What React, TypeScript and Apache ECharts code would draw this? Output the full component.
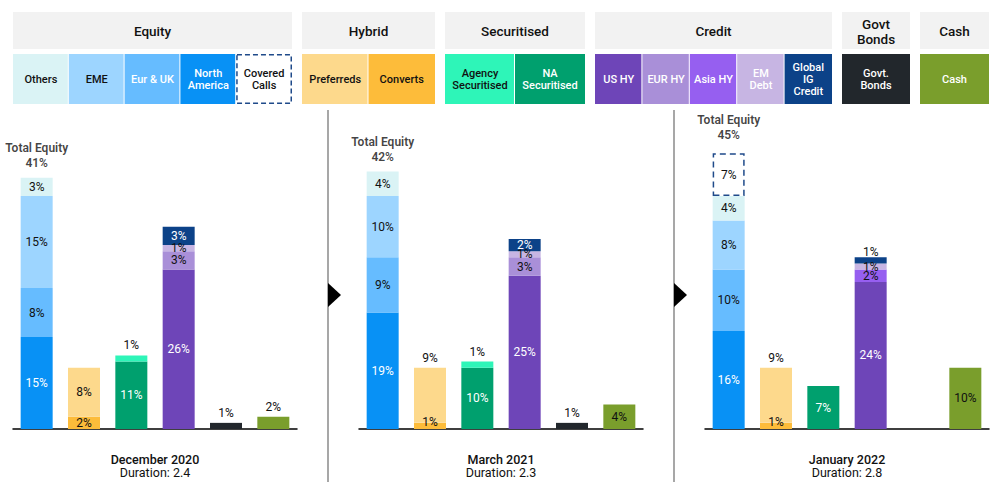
import React, { useEffect, useRef } from 'react';
import * as echarts from 'echarts';

// ---------- DATA ----------
const categories = ['Equity', 'Hybrid', 'Securitised', 'Credit', 'Govt Bonds', 'Cash'];
const groupTitles = ['Equity', 'Hybrid', 'Securitised', 'Credit', 'Govt\nBonds', 'Cash'];
const panelTitles = ['December 2020', 'March 2021', 'January 2022'];
const panelDurations = ['Duration: 2.4', 'Duration: 2.3', 'Duration: 2.8'];

// values per panel: [Dec 2020, Mar 2021, Jan 2022]
const northAmerica = [15, 19, 16];
const eurUK = [8, 9, 10];
const eme = [15, 10, 8];
const equityOthers = [3, 4, 4];
const coveredCalls = [0, 0, 7];
const converts = [2, 1, 1];
const preferreds = [8, 9, 9];
const naSecuritised = [11, 10, 7];
const agencySecuritised = [1, 1, 0];
const usHY = [26, 25, 24];
const eurHY = [3, 3, 0];
const asiaHY = [0, 0, 2];
const emDebt = [1, 1, 1];
const globalIG = [3, 2, 1];
const govtBonds = [1, 1, 0];
const cash = [2, 4, 10];

// ---------- STYLE ----------
const FONT = 'Roboto, "Noto Sans", sans-serif';
const DARK = '#111111';

type Seg = {
  key: string;
  legend: string;
  cat: number;
  values: number[];
  color: string;
  textColor: string;
  legendTextColor: string;
  dashed?: boolean;
  topPanels?: number[];
  nudgeUp?: number;
};

// stacking order: bottom -> top
const segments: Seg[] = [
  { key: 'North America', legend: 'North\nAmerica', cat: 0, values: northAmerica, color: '#0891f5', textColor: '#fff', legendTextColor: '#fff' },
  { key: 'Eur & UK', legend: 'Eur & UK', cat: 0, values: eurUK, color: '#66bcff', textColor: DARK, legendTextColor: '#fff' },
  { key: 'EME', legend: 'EME', cat: 0, values: eme, color: '#9dd5ff', textColor: DARK, legendTextColor: DARK },
  { key: 'Others', legend: 'Others', cat: 0, values: equityOthers, color: '#daf3f5', textColor: DARK, legendTextColor: DARK },
  { key: 'Covered Calls', legend: 'Covered\nCalls', cat: 0, values: coveredCalls, color: '#ffffff', textColor: DARK, legendTextColor: DARK, dashed: true },
  { key: 'Converts', legend: 'Converts', cat: 1, values: converts, color: '#fdbc3a', textColor: DARK, legendTextColor: DARK, nudgeUp: 4 },
  { key: 'Preferreds', legend: 'Preferreds', cat: 1, values: preferreds, color: '#fdd98c', textColor: DARK, legendTextColor: DARK, topPanels: [1, 2] },
  { key: 'NA Securitised', legend: 'NA\nSecuritised', cat: 2, values: naSecuritised, color: '#00a06e', textColor: '#fff', legendTextColor: '#fff' },
  { key: 'Agency Securitised', legend: 'Agency\nSecuritised', cat: 2, values: agencySecuritised, color: '#2ef5b8', textColor: DARK, legendTextColor: DARK, topPanels: [0, 1, 2] },
  { key: 'US HY', legend: 'US HY', cat: 3, values: usHY, color: '#6e45b8', textColor: '#fff', legendTextColor: '#fff' },
  { key: 'EUR HY', legend: 'EUR HY', cat: 3, values: eurHY, color: '#a98fd8', textColor: DARK, legendTextColor: '#fff' },
  { key: 'Asia HY', legend: 'Asia HY', cat: 3, values: asiaHY, color: '#965ff0', textColor: DARK, legendTextColor: '#fff' },
  { key: 'EM Debt', legend: 'EM\nDebt', cat: 3, values: emDebt, color: '#c7b5e3', textColor: DARK, legendTextColor: '#fff' },
  { key: 'Global IG Credit', legend: 'Global\nIG\nCredit', cat: 3, values: globalIG, color: '#0c4288', textColor: '#fff', legendTextColor: '#fff', topPanels: [2] },
  { key: 'Govt. Bonds', legend: 'Govt.\nBonds', cat: 4, values: govtBonds, color: '#22272c', textColor: DARK, legendTextColor: '#fff', topPanels: [0, 1, 2] },
  { key: 'Cash', legend: 'Cash', cat: 5, values: cash, color: '#7a9e2c', textColor: DARK, legendTextColor: '#fff', topPanels: [0] },
];

// legend order inside each group (left -> right)
const legendOrder = [
  ['Others', 'EME', 'Eur & UK', 'North America', 'Covered Calls'],
  ['Preferreds', 'Converts'],
  ['Agency Securitised', 'NA Securitised'],
  ['US HY', 'EUR HY', 'Asia HY', 'EM Debt', 'Global IG Credit'],
  ['Govt. Bonds'],
  ['Cash'],
];

// ---------- LAYOUT ----------
const gridLefts = [13, 359, 705];
const gridWidth = 284;
const gridTop = 122.5;
const gridHeight = 306.5;
const yMax = 50;
const groupWidths = [279, 133, 140, 237, 68, 69];
const headerX0 = 13;
const headerGap = 10;

function buildOption() {
  const grids: any[] = [];
  const xAxes: any[] = [];
  const yAxes: any[] = [];
  const series: any[] = [];

  for (let p = 0; p < 3; p++) {
    grids.push({ left: gridLefts[p], width: gridWidth, top: gridTop, height: gridHeight });
    xAxes.push({
      type: 'category',
      gridIndex: p,
      data: categories,
      axisLine: { show: true, lineStyle: { color: '#000', width: 1.5 } },
      axisTick: { show: false },
      axisLabel: { show: false },
      splitLine: { show: false },
    });
    yAxes.push({ type: 'value', gridIndex: p, min: 0, max: yMax, show: false, splitLine: { show: false } });

    segments.forEach((seg) => {
      const v = seg.values[p];
      const isTop = (seg.topPanels || []).includes(p);
      const stackTopIsThin = isTop && seg.cat === 3;
      const data = categories.map((_, ci) => {
        if (ci !== seg.cat || !v) return '-';
        return {
          value: v,
          label: {
            show: true,
            position: isTop ? 'top' : 'inside',
            distance: stackTopIsThin ? -1 : isTop ? 4 : 5,
            offset: !isTop && seg.nudgeUp && v <= 1 ? [0, -seg.nudgeUp] : [0, 0],
            color: isTop ? DARK : seg.textColor,
          },
        };
      });
      series.push({
        type: 'bar',
        name: seg.key,
        xAxisIndex: p,
        yAxisIndex: p,
        stack: 'panel' + p,
        barWidth: 32,
        silent: true,
        data,
        itemStyle: seg.dashed
          ? { color: '#ffffff', borderColor: '#1f4a8a', borderWidth: 1.5, borderType: [6, 4] }
          : { color: seg.color },
        label: { fontFamily: FONT, fontSize: 12, formatter: '{c}%' },
      });
    });

    const totalEquity = segments.filter((s) => s.cat === 0).reduce((a, s) => a + s.values[p], 0);
    series.push({
      type: 'scatter',
      name: 'Total Equity',
      xAxisIndex: p,
      yAxisIndex: p,
      symbolSize: 1,
      silent: true,
      itemStyle: { color: 'rgba(0,0,0,0)' },
      data: categories.map((_, ci) => (ci === 0 ? totalEquity : '-')),
      label: {
        show: true,
        position: 'top',
        distance: p === 2 ? 10 : 7,
        formatter: `Total Equity\n${totalEquity}%`,
        fontFamily: FONT,
        fontSize: 12,
        fontWeight: 600,
        lineHeight: 15,
        color: DARK,
        align: 'center',
      },
    });
  }

  // ---------- header / legend graphics ----------
  const graphics: any[] = [];
  let gx = headerX0;
  legendOrder.forEach((keys, gi) => {
    const w = groupWidths[gi];
    graphics.push({
      type: 'rect',
      shape: { x: gx, y: 12, width: w, height: 37 },
      style: { fill: '#f2f2f2' },
      silent: true,
    });
    graphics.push({
      type: 'text',
      x: gx + w / 2,
      y: 31,
      style: {
        text: groupTitles[gi],
        fill: DARK,
        font: `500 13.5px ${FONT}`,
        align: 'center',
        verticalAlign: 'middle',
        lineHeight: 15,
      },
      silent: true,
    });
    const iw = w / keys.length;
    keys.forEach((k, ii) => {
      const seg = segments.find((s) => s.key === k)!;
      const x = gx + ii * iw;
      if (seg.dashed) {
        graphics.push({
          type: 'rect',
          shape: { x: x + 0.75, y: 54.75, width: iw - 1.5, height: 48.5 },
          style: { fill: '#ffffff', stroke: '#1f4a8a', lineWidth: 1.5, lineDash: [5, 3] },
          silent: true,
        });
      } else {
        graphics.push({
          type: 'rect',
          shape: { x: x, y: 54, width: ii === keys.length - 1 ? iw : iw - 1, height: 50 },
          style: { fill: seg.color },
          silent: true,
        });
      }
      graphics.push({
        type: 'text',
        x: x + iw / 2,
        y: 79,
        style: {
          text: seg.legend,
          fill: seg.legendTextColor,
          font: `500 11px ${FONT}`,
          align: 'center',
          verticalAlign: 'middle',
          lineHeight: 12,
        },
        silent: true,
      });
    });
    gx += w + headerGap;
  });

  // dividers and arrows between panels
  [328, 674].forEach((dx) => {
    graphics.push({
      type: 'line',
      shape: { x1: dx, y1: 110, x2: dx, y2: 482 },
      style: { stroke: '#8a8a8a', lineWidth: 1.5 },
      silent: true,
    });
    graphics.push({
      type: 'polygon',
      shape: { points: [[dx, 283], [dx + 13, 295], [dx, 307]] },
      style: { fill: '#000' },
      silent: true,
    });
  });

  // panel titles
  for (let p = 0; p < 3; p++) {
    const cx = gridLefts[p] + gridWidth / 2;
    graphics.push({
      type: 'text',
      x: cx,
      y: 459,
      style: { text: panelTitles[p], fill: DARK, font: `500 12.5px ${FONT}`, align: 'center', verticalAlign: 'middle' },
      silent: true,
    });
    graphics.push({
      type: 'text',
      x: cx,
      y: 472.5,
      style: { text: panelDurations[p], fill: DARK, font: `400 12.5px ${FONT}`, align: 'center', verticalAlign: 'middle' },
      silent: true,
    });
  }

  return {
    animation: false,
    backgroundColor: '#ffffff',
    textStyle: { fontFamily: FONT },
    grid: grids,
    xAxis: xAxes,
    yAxis: yAxes,
    series,
    graphic: graphics,
  };
}

export default function App() {
  const ref = useRef<HTMLDivElement>(null);
  useEffect(() => {
    if (!ref.current) return;
    const chart = echarts.init(ref.current, undefined, { renderer: 'svg' });
    chart.setOption(buildOption() as any);
    return () => chart.dispose();
  }, []);
  return (
    <div
      ref={ref}
      style={{ position: 'fixed', left: 0, top: 0, width: 1000, height: 491, background: '#fff' }}
    />
  );
}
